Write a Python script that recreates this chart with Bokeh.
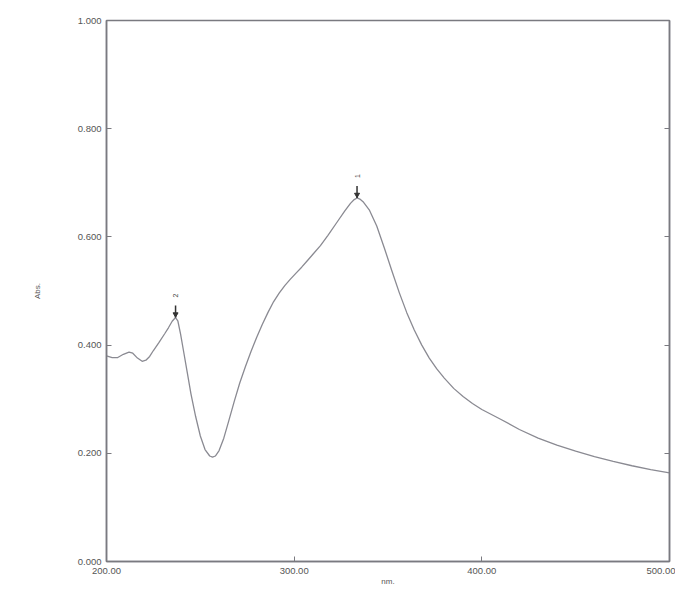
import math
from bokeh.plotting import figure
from bokeh.models import FixedTicker, NumeralTickFormatter, LinearAxis, Range1d, CustomJSTickFormatter
from bokeh.core.properties import value
from bokeh.embed import file_html
from bokeh.resources import INLINE

# Spectrum (wavelength nm, absorbance)
wavelength = [200, 203, 206, 209, 212, 214, 216.5, 219, 221, 223, 225, 228, 231, 233,
              235, 236.8, 238, 239.5, 241, 243, 245, 247.5, 250, 252.5, 255, 256.5,
              258, 260, 262.5, 265, 268, 271, 274, 277, 280, 283, 286, 289, 292, 295,
              298, 301, 304, 307, 310, 314, 318, 323, 327, 330, 332, 333.5, 335, 337,
              340, 344, 348, 352, 356, 360, 364, 368, 372, 376, 380, 385, 390, 395,
              400, 410, 420, 430, 440, 450, 460, 470, 480, 490, 500]
absorbance = [0.380, 0.377, 0.377, 0.383, 0.387, 0.385, 0.376, 0.370, 0.372, 0.379,
              0.390, 0.405, 0.421, 0.432, 0.444, 0.451, 0.445, 0.420, 0.390, 0.350,
              0.310, 0.268, 0.232, 0.207, 0.195, 0.193, 0.195, 0.205, 0.228, 0.258,
              0.295, 0.330, 0.360, 0.388, 0.414, 0.438, 0.460, 0.480, 0.496, 0.510,
              0.522, 0.533, 0.544, 0.556, 0.568, 0.584, 0.603, 0.628, 0.648, 0.662,
              0.669, 0.672, 0.670, 0.664, 0.650, 0.620, 0.580, 0.538, 0.497, 0.460,
              0.428, 0.400, 0.376, 0.356, 0.339, 0.320, 0.305, 0.292, 0.281, 0.263,
              0.244, 0.228, 0.215, 0.204, 0.194, 0.185, 0.177, 0.170, 0.164]

# Peak picks
peak_nm = [333.5, 236.8]
peak_abs = [0.672, 0.451]
peak_labels = ["1", "2"]

x_ticks = [200, 300, 400, 500]
y_ticks = [0.0, 0.2, 0.4, 0.6, 0.8, 1.0]

FONT = "Liberation Sans"
FRAME = "#7a7a80"
LABEL = "#555555"

p = figure(width=675, height=588, output_backend="svg", toolbar_location=None,
           x_range=Range1d(200, 500), y_range=Range1d(0, 1.0),
           min_border_left=106, min_border_top=20, min_border_right=6, min_border_bottom=25,
           background_fill_color="white", border_fill_color="white")
p.grid.visible = False
p.outline_line_color = FRAME
p.outline_line_width = 1.5

# bottom axis
xa = p.xaxis[0]
xa.ticker = FixedTicker(ticks=x_ticks)
xa.formatter = NumeralTickFormatter(format="0.00")
xa.axis_label = "nm."
xa.axis_label_text_font = FONT
xa.axis_label_text_font_size = "8px"
xa.axis_label_text_font_style = "normal"
xa.axis_label_text_color = LABEL
xa.axis_label_standoff = 0
xa.major_label_text_font = FONT
xa.major_label_text_font_size = "9.5px"
xa.major_label_text_color = LABEL
xa.major_label_standoff = 6
xa.major_tick_in = 5
xa.major_tick_out = 0
xa.minor_tick_line_color = None
xa.axis_line_color = FRAME
xa.axis_line_width = 1.5
xa.major_tick_line_color = FRAME

# left axis
ya = p.yaxis[0]
ya.ticker = FixedTicker(ticks=y_ticks)
ya.formatter = NumeralTickFormatter(format="0.000")
ya.axis_label = "Abs."
ya.axis_label_text_font = FONT
ya.axis_label_text_font_size = "8px"
ya.axis_label_text_font_style = "normal"
ya.axis_label_text_color = LABEL
ya.axis_label_standoff = 33
ya.major_label_text_font = FONT
ya.major_label_text_font_size = "9.5px"
ya.major_label_text_color = LABEL
ya.major_label_standoff = 5
ya.major_tick_in = 5
ya.major_tick_out = 0
ya.minor_tick_line_color = None
ya.axis_line_color = FRAME
ya.axis_line_width = 1.5
ya.major_tick_line_color = FRAME

# right axis (ticks only)
ra = LinearAxis(ticker=FixedTicker(ticks=[0.2, 0.4, 0.6, 0.8]),
                formatter=CustomJSTickFormatter(code="return ''"))
ra.major_label_standoff = 0
ra.major_tick_in = 5
ra.major_tick_out = 0
ra.minor_tick_line_color = None
ra.axis_line_color = FRAME
ra.axis_line_width = 1.5
ra.major_tick_line_color = FRAME
p.add_layout(ra, "right")

# spectrum
p.line(wavelength, absorbance, line_color="#8a8a92", line_width=1.3)

# peak markers
stem_top = [a + 0.022 for a in peak_abs]
p.segment(x0=peak_nm, y0=peak_abs, x1=peak_nm, y1=stem_top, line_color="#333333", line_width=1.5)
p.scatter(x=peak_nm, y=[a + 0.006 for a in peak_abs], marker="inverted_triangle", size=5,
          fill_color="#333333", line_color="#333333")
p.text(x=peak_nm, y=peak_abs, text=peak_labels, y_offset=-22, angle=math.pi / 2,
       text_font=value(FONT), text_font_size="7px", text_color="#444444",
       text_align="center", text_baseline="middle")

open("out.html", "w").write(file_html(p, INLINE))
